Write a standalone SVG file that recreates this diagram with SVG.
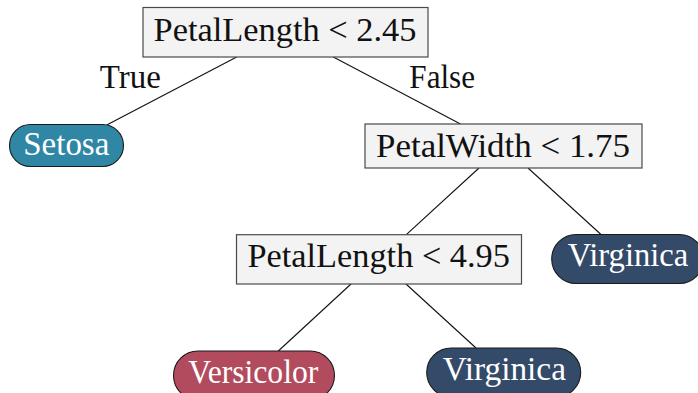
<svg xmlns="http://www.w3.org/2000/svg" width="698" height="393" viewBox="0 0 698 393">
<style>
.box{fill:#f3f3f3;stroke:#4a4a4a;stroke-width:1.2}
.pill{stroke:#1a1a1a;stroke-width:1.1}
.setosa{fill:#2f87a5}
.versi{fill:#b34b5e}
.virg{fill:#344a69}
text{font-family:"Liberation Serif","Times New Roman",serif;font-size:33px;text-anchor:middle}
.dark{fill:#111}
.light{fill:#ffffff}
.edge{stroke:#111;stroke-width:1.1;fill:none}
</style>
<rect width="698" height="393" fill="#ffffff"/>
<g id="connectors">
<line class="edge" x1="236.7" y1="57" x2="106.7" y2="125"/>
<line class="edge" x1="333.3" y1="57" x2="460.5" y2="124"/>
<line class="edge" x1="479" y1="168" x2="406.3" y2="234.7"/>
<line class="edge" x1="528" y1="168" x2="601" y2="234.5"/>
<line class="edge" x1="351" y1="284" x2="278.3" y2="351"/>
<line class="edge" x1="406" y1="284" x2="476" y2="348"/>
<text class="dark" x="130.3" y="88" textLength="61" lengthAdjust="spacingAndGlyphs">True</text>
<text class="dark" x="442.2" y="87.7" textLength="65.7" lengthAdjust="spacingAndGlyphs">False</text>
</g>
<g id="root">
<rect class="box" x="143" y="7.5" width="285" height="49.5"/>
<text class="dark" x="285" y="41" textLength="263" lengthAdjust="spacingAndGlyphs">PetalLength &lt; 2.45</text>
</g>
<g id="setosa">
<rect class="pill setosa" x="9.5" y="124.5" width="114" height="42" rx="21"/>
<text class="light" x="66.3" y="155" textLength="86" lengthAdjust="spacingAndGlyphs">Setosa</text>
</g>
<g id="petalwidth">
<rect class="box" x="365" y="124" width="277" height="44"/>
<text class="dark" x="503" y="156.7" textLength="254" lengthAdjust="spacingAndGlyphs">PetalWidth &lt; 1.75</text>
</g>
<g id="petallength2">
<rect class="box" x="236.5" y="234.7" width="285" height="49.3"/>
<text class="dark" x="378.7" y="266.7" textLength="262.5" lengthAdjust="spacingAndGlyphs">PetalLength &lt; 4.95</text>
</g>
<g id="virginica-right">
<rect class="pill virg" x="551.7" y="234.5" width="152" height="49" rx="24.5"/>
<text class="light" x="628" y="266" textLength="120.6" lengthAdjust="spacingAndGlyphs">Virginica</text>
</g>
<g id="versicolor">
<rect class="pill versi" x="173.5" y="351" width="161" height="49" rx="24.5"/>
<text class="light" x="253.3" y="383.3" textLength="130" lengthAdjust="spacingAndGlyphs">Versicolor</text>
</g>
<g id="virginica-bottom">
<rect class="pill virg" x="426.7" y="348" width="154" height="49" rx="24.5"/>
<text class="light" x="504.3" y="380" textLength="123.3" lengthAdjust="spacingAndGlyphs">Virginica</text>
</g>
</svg>
